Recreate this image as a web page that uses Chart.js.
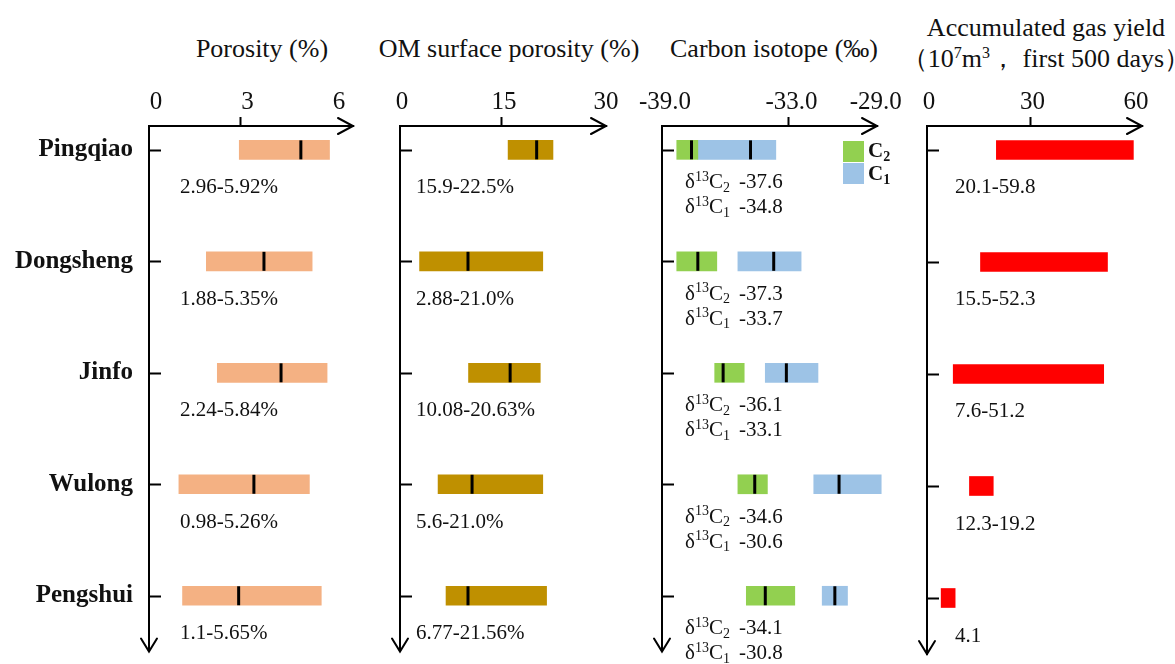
<!DOCTYPE html>
<html>
<head>
<meta charset="utf-8">
<script src="https://cdn.jsdelivr.net/npm/chart.js@4.4.1/dist/chart.umd.min.js"></script>
<style>
  html, body { margin: 0; padding: 0; background: #fff; }
  body { position: relative; width: 1175px; height: 664px; overflow: hidden;
         font-family: "Liberation Serif", "Times New Roman", serif; color: #111; }
  canvas { position: absolute; top: 0; }
  .title { position: absolute; font-size: 26px; line-height: 31px; white-space: nowrap;
           transform: translateX(-50%); text-align: center; }
  .title sup { font-size: 16px; vertical-align: 0; position: relative; top: -9px; }
</style>
</head>
<body>
<div class="title" style="left:262px; top:33px;">Porosity (%)</div>
<div class="title" style="left:509px; top:33px;">OM surface porosity (%)</div>
<div class="title" style="left:774px; top:33px;">Carbon isotope (‰)</div>
<div class="title" style="left:1046px; top:12px;">Accumulated gas yield<br>（10<sup>7</sup>m<sup>3</sup>，&nbsp;first 500 days）</div>

<canvas id="cPor" width="375" height="664" style="left:0px"></canvas>
<canvas id="cOm" width="250" height="664" style="left:375px"></canvas>
<canvas id="cIso" width="285" height="664" style="left:625px"></canvas>
<canvas id="cGas" width="265" height="664" style="left:910px"></canvas>

<script>
// Shale gas blocks, top to bottom
const blocks = ['Pingqiao', 'Dongsheng', 'Jinfo', 'Wulong', 'Pengshui'];

// Porosity (%): range and mean
const porLow  = ['2.96', '1.88', '2.24', '0.98', '1.1'];
const porHigh = ['5.92', '5.35', '5.84', '5.26', '5.65'];
const porMean = [4.98, 3.77, 4.33, 3.44, 2.94];
const porTicks = [0, 3, 6];

// OM surface porosity (%): range and mean
const omLow  = ['15.9', '2.88', '10.08', '5.6', '6.77'];
const omHigh = ['22.5', '21.0', '20.63', '21.0', '21.56'];
const omMean = [20.1, 10.0, 16.2, 10.6, 10.0];
const omTicks = [0, 15, 30];

// Carbon isotope (‰): C2 (ethane) and C1 (methane) ranges and means
const c2Low  = [-38.3, -38.3, -36.5, -35.4, -35.0];
const c2High = [-37.3, -36.4, -35.1, -34.0, -32.7];
const c2Mean = ['-37.6', '-37.3', '-36.1', '-34.6', '-34.1'];
const c1Low  = [-37.3, -35.4, -34.1, -31.8, -31.4];
const c1High = [-33.6, -32.4, -31.6, -28.6, -30.2];
const c1Mean = ['-34.8', '-33.7', '-33.1', '-30.6', '-30.8'];
const isoTicks = [-39.0, -33.0, -29.0];

// Accumulated gas yield (10^7 m^3, first 500 days)
const gasLow  = ['20.1', '15.5', '7.6', '12.3', '4.1'];
const gasHigh = ['59.8', '52.3', '51.2', '19.2', '4.1'];
const gasTicks = [0, 30, 60];

const SERIF = '"Liberation Serif", "Times New Roman", serif';
const INK = '#111';

// Draws a run of text pieces, some raised or lowered as super/subscripts
function drawRich(ctx, x, y, parts, size, bold) {
  ctx.save();
  ctx.textBaseline = 'middle';
  ctx.textAlign = 'left';
  ctx.fillStyle = INK;
  let cx = x;
  for (const p of parts) {
    const s = p.sup || p.sub ? Math.round(size * 0.66) : size;
    const dy = p.sup ? -size * 0.28 : (p.sub ? size * 0.25 : 0);
    ctx.font = (bold ? 'bold ' : '') + s + 'px ' + SERIF;
    ctx.fillText(p.t, cx, y + dy);
    cx += ctx.measureText(p.t).width + (p.gap || 0);
  }
  ctx.restore();
}

// Arrowheads on both axes plus inward tick marks for every block
const axisArrows = {
  id: 'axisArrows',
  afterDraw(chart) {
    const { ctx, chartArea: a, scales: { y } } = chart;
    ctx.save();
    ctx.strokeStyle = '#000';
    ctx.lineWidth = 2;
    ctx.lineCap = 'round';
    ctx.beginPath();
    ctx.moveTo(a.right - 15, a.top - 8);
    ctx.lineTo(a.right, a.top);
    ctx.lineTo(a.right - 15, a.top + 8);
    ctx.moveTo(a.left - 8, a.bottom - 13);
    ctx.lineTo(a.left, a.bottom);
    ctx.lineTo(a.left + 8, a.bottom - 13);
    ctx.stroke();
    ctx.lineCap = 'butt';
    ctx.beginPath();
    blocks.forEach((_, i) => {
      const py = Math.round(y.getPixelForValue(i)) + 0.5;
      ctx.moveTo(a.left, py);
      ctx.lineTo(a.left + 12, py);
    });
    ctx.stroke();
    ctx.restore();
  }
};

function rangeText(lo, hi, unit) {
  return (lo === hi ? lo : lo + '-' + hi) + unit;
}

function meanTicks(values) {
  return {
    type: 'scatter',
    data: values.map((m, i) => ({ x: Number(m), y: i })),
    pointStyle: 'line', rotation: 90, radius: 9.5, borderWidth: 3,
    borderColor: '#000', backgroundColor: '#000', order: 0
  };
}

// One panel: floating bars per block, mean ticks, notes beneath each bar
function makePanel(id, cfg) {
  const datasets = (cfg.means || []).map(meanTicks);
  cfg.bars.forEach(b => {
    datasets.push({
      type: 'bar',
      data: b.low.map((lo, i) => ({ x: [Number(lo), Number(b.high[i])], y: i })),
      backgroundColor: b.color, borderWidth: 0, barThickness: 19,
      minBarLength: 14, grouped: false, order: 1
    });
  });

  const notes = {
    id: 'notes',
    afterDatasetsDraw(chart) {
      const { ctx, scales: { y } } = chart;
      blocks.forEach((_, i) => cfg.note(ctx, y.getPixelForValue(i), i, chart));
      if (cfg.extra) cfg.extra(ctx, chart);
    }
  };

  return new Chart(document.getElementById(id), {
    type: 'bar',
    data: { datasets },
    options: {
      indexAxis: 'y',
      responsive: false,
      animation: false,
      events: [],
      clip: false,
      layout: { padding: { top: 86, bottom: 10, left: 0, right: cfg.padRight } },
      plugins: { legend: { display: false }, tooltip: { enabled: false } },
      scales: {
        x: {
          type: 'linear', position: 'top', min: cfg.min, max: cfg.max,
          offset: false, grace: 0,
          afterBuildTicks: s => { s.ticks = cfg.ticks.map(v => ({ value: v })); },
          afterFit: s => { s.height = 40; },
          grid: {
            display: true, drawOnChartArea: false, drawTicks: true, tickLength: 9, tickWidth: 2,
            offset: false,
            tickColor: c => (c.index === 1 ? '#000' : 'rgba(0,0,0,0)')
          },
          border: { display: true, color: '#000', width: 2 },
          ticks: {
            color: INK, padding: 0, maxRotation: 0, autoSkip: false,
            labelOffset: cfg.labelOffset || 0,
            font: { family: SERIF, size: 25 },
            callback: v => (cfg.tickFmt ? cfg.tickFmt(v) : String(v))
          }
        },
        y: {
          type: 'linear', position: 'left', reverse: true, min: -0.214, max: 4.5,
          offset: false, grace: 0, bounds: 'data',
          afterBuildTicks: s => { s.ticks = blocks.map((_, i) => ({ value: i })); },
          afterFit: s => { s.width = cfg.left; s.paddingTop = 0; s.paddingBottom = 0; },
          grid: { display: false, drawTicks: false, offset: false },
          border: { display: true, color: '#000', width: 2 },
          ticks: {
            display: !!cfg.showBlocks, color: INK, padding: 16, autoSkip: false,
            font: { family: SERIF, size: 25, weight: 'bold' },
            callback: v => blocks[v]
          }
        }
      }
    },
    plugins: [axisArrows, notes]
  });
}

function plainNote(x, lows, highs, unit) {
  return (ctx, py, i) => {
    ctx.save();
    ctx.font = '21px ' + SERIF;
    ctx.fillStyle = INK;
    ctx.textBaseline = 'middle';
    ctx.textAlign = 'left';
    ctx.fillText(rangeText(lows[i], highs[i], unit), x, py + 38);
    ctx.restore();
  };
}

const charts = [];

charts.push(makePanel('cPor', {
  left: 149, padRight: 22, min: 0, max: 6.69, ticks: porTicks, showBlocks: true, labelOffset: 7,
  bars: [{ low: porLow, high: porHigh, color: '#F4B183' }],
  means: [porMean],
  note: plainNote(180, porLow, porHigh, '%')
}));

charts.push(makePanel('cOm', {
  left: 25, padRight: 19, min: 0, max: 30.3, ticks: omTicks, labelOffset: 2,
  bars: [{ low: omLow, high: omHigh, color: '#BF9000' }],
  means: [omMean],
  note: plainNote(41, omLow, omHigh, '%')
}));

const C2_COLOR = '#92D050', C1_COLOR = '#9DC3E6';
charts.push(makePanel('cIso', {
  left: 37, padRight: 33, min: -39, max: -28.8, ticks: isoTicks, labelOffset: 3,
  tickFmt: v => v.toFixed(1),
  bars: [
    { low: c2Low, high: c2High, color: C2_COLOR },
    { low: c1Low, high: c1High, color: C1_COLOR }
  ],
  means: [c2Mean, c1Mean],
  note: (ctx, py, i) => {
    drawRich(ctx, 60, py + 33, [{ t: 'δ' }, { t: '13', sup: true }, { t: 'C' }, { t: '2', sub: true, gap: 9 }, { t: c2Mean[i] }], 21);
    drawRich(ctx, 60, py + 58, [{ t: 'δ' }, { t: '13', sup: true }, { t: 'C' }, { t: '1', sub: true, gap: 9 }, { t: c1Mean[i] }], 21);
  },
  extra: (ctx) => {
    ctx.save();
    ctx.fillStyle = C2_COLOR;
    ctx.fillRect(218, 141, 21, 21);
    ctx.fillStyle = C1_COLOR;
    ctx.fillRect(218, 163, 21, 21);
    ctx.restore();
    drawRich(ctx, 243, 152, [{ t: 'C' }, { t: '2', sub: true }], 21, true);
    drawRich(ctx, 243, 175, [{ t: 'C' }, { t: '1', sub: true }], 21, true);
  }
}));

charts.push(makePanel('cGas', {
  left: 17, padRight: 33, min: 0, max: 62.3, ticks: gasTicks, labelOffset: 2,
  bars: [{ low: gasLow, high: gasHigh, color: '#FF0000' }],
  note: plainNote(45, gasLow, gasHigh, '')
}));
</script>
</body>
</html>
